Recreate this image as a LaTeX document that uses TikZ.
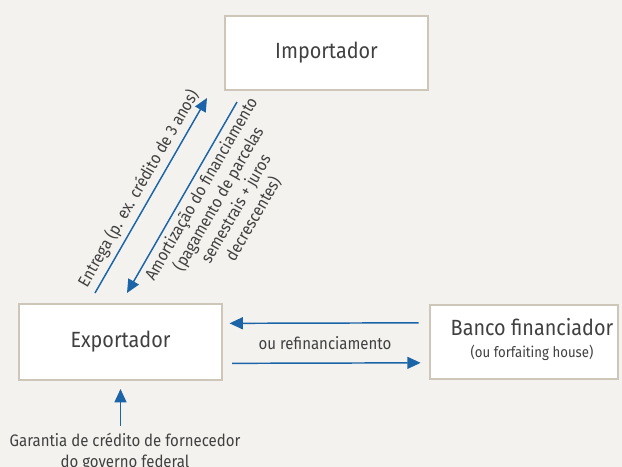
\documentclass[tikz,border=0pt]{standalone}
\usepackage{fontspec}
\setmainfont{Fira Sans}[FakeStretch=0.9]
\usetikzlibrary{arrows.meta}

\definecolor{bgcol}{HTML}{F4F2EE}
\definecolor{boxline}{HTML}{CDC6B9}
\definecolor{flow}{HTML}{1B64A8}
\definecolor{txt}{HTML}{404040}

\begin{document}
\begin{tikzpicture}[
                x=0.75pt, y=-0.75pt,
                party/.style={rectangle,draw=boxline,line width=1.5pt,fill=white,minimum height=55.5pt,text=txt,font=\fontsize{16.5}{19}\selectfont},
                flowarrow/.style={draw=flow,line width=1.1pt,-{Triangle[length=10pt,width=9pt]}},
                flowlabel/.style={text=txt,font=\fontsize{12.5}{15}\selectfont,inner sep=0pt},
            ]

            % Background and page size
            \fill[bgcol] (0,0) rectangle (622,467);
            \useasboundingbox (0,0) rectangle (622,467);

            % Define nodes
            \node[party,minimum width=152pt] (imp) at (326.5,53) {Importador};
            \node[party,minimum width=152pt,minimum height=57pt] (exp) at (120.5,342) {Exportador};
            \node[party,minimum width=140pt] (bank) at (524,341.5) {\hspace*{12pt}\begin{tabular}{@{}c@{}}Banco financiador\\[-2pt]{\fontsize{11}{12}\selectfont (ou forfaiting house)}\end{tabular}};

            % Labels
            \node[flowlabel,rotate=60] (deliv) at (138.5,188.5) {Entrega (p. ex. crédito de 3 anos)};
            \node[flowlabel,rotate=60,align=center] (repay) at (227.5,204) {Amortização do financiamento\\(pagamento de parcelas\\semestrais + juros\\decrescentes)};
            \node[flowlabel] (refin) at (325,343) {ou refinanciamento};
            \node[flowlabel,align=center,font=\fontsize{12.5}{16}\selectfont] (guar) at (125,452) {Garantia de crédito de fornecedor\\do governo federal};

            % Free ends of the diagonal arrows
            \coordinate (delivA) at (95,293);
            \coordinate (delivB) at (207,98);
            \coordinate (repayA) at (237,102);
            \coordinate (repayB) at (127,293);

            % Draw connections
            \draw[flowarrow] (delivA) -- (delivB);
            \draw[flowarrow] (repayA) -- (repayB);
            \draw[flowarrow] ([xshift=-8pt,yshift=14pt]bank.west) -- ([xshift=5pt,yshift=14pt]exp.east);
            \draw[flowarrow] ([xshift=7pt,yshift=-16pt]exp.east) -- ([xshift=-6.5pt,yshift=-16pt]bank.west);
            \draw[flowarrow,shorten <=5pt,shorten >=6pt] (guar.north -| exp.south) -- (exp.south);

            \end{tikzpicture}
\end{document}
